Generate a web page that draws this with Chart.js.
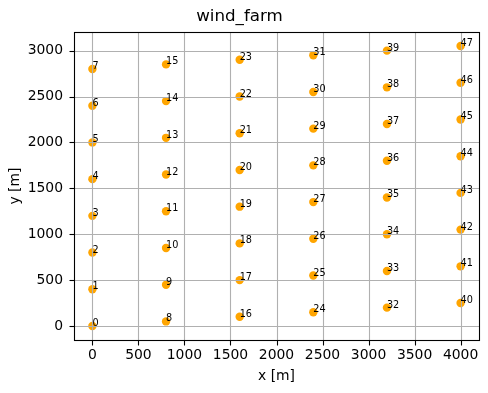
<!DOCTYPE html>
<html>
<head>
<meta charset="utf-8">
<script src="https://cdn.jsdelivr.net/npm/chart.js@4/dist/chart.umd.min.js"></script>
<style>
  html, body { margin: 0; padding: 0; background: #fff; }
  #wrap { width: 488px; height: 393px; }
</style>
</head>
<body>
<div id="wrap"><canvas id="c" width="488" height="393"></canvas></div>
<script>
// Turbine positions (m), ids 0..47
const turbineIds = [
  0, 1, 2, 3, 4, 5, 6, 7,
  8, 9, 10, 11, 12, 13, 14, 15,
  16, 17, 18, 19, 20, 21, 22, 23,
  24, 25, 26, 27, 28, 29, 30, 31,
  32, 33, 34, 35, 36, 37, 38, 39,
  40, 41, 42, 43, 44, 45, 46, 47
];
const turbineX = [
  0, 0, 0, 0, 0, 0, 0, 0,
  800, 800, 800, 800, 800, 800, 800, 800,
  1600, 1600, 1600, 1600, 1600, 1600, 1600, 1600,
  2400, 2400, 2400, 2400, 2400, 2400, 2400, 2400,
  3200, 3200, 3200, 3200, 3200, 3200, 3200, 3200,
  4000, 4000, 4000, 4000, 4000, 4000, 4000, 4000
];
const turbineY = [
  0, 400, 800, 1200, 1600, 2000, 2400, 2800,
  50, 450, 850, 1250, 1650, 2050, 2450, 2850,
  100, 500, 900, 1300, 1700, 2100, 2500, 2900,
  150, 550, 950, 1350, 1750, 2150, 2550, 2950,
  200, 600, 1000, 1400, 1800, 2200, 2600, 3000,
  250, 650, 1050, 1450, 1850, 2250, 2650, 3050
];
const xTicks = [0, 500, 1000, 1500, 2000, 2500, 3000, 3500, 4000];
const yTicks = [0, 500, 1000, 1500, 2000, 2500, 3000];
const chartTitle = 'wind_farm';
const xTitle = 'x [m]';
const yTitle = 'y [m]';

const FONT = "'DejaVu Sans', sans-serif";

const points = turbineX.map((x, i) => ({ x: x, y: turbineY[i] }));

const overlay = {
  id: 'overlay',
  afterDatasetsDraw(chart) {
    const ctx = chart.ctx;
    const a = chart.chartArea;
    const xs = chart.scales.x, ys = chart.scales.y;
    ctx.save();
    // grid (above points, as in matplotlib default)
    ctx.strokeStyle = '#b0b0b0';
    ctx.lineWidth = 1.1;
    xTicks.forEach(v => {
      const p = Math.round(xs.getPixelForValue(v)) + 0.5;
      ctx.beginPath(); ctx.moveTo(p, a.top); ctx.lineTo(p, a.bottom); ctx.stroke();
    });
    yTicks.forEach(v => {
      const p = Math.round(ys.getPixelForValue(v)) + 0.5;
      ctx.beginPath(); ctx.moveTo(a.left, p); ctx.lineTo(a.right, p); ctx.stroke();
    });
    // point labels
    ctx.fillStyle = '#000';
    ctx.font = '9.7px ' + FONT;
    ctx.textAlign = 'left';
    ctx.textBaseline = 'alphabetic';
    turbineIds.forEach((id, i) => {
      ctx.fillText(String(id), xs.getPixelForValue(turbineX[i]), ys.getPixelForValue(turbineY[i]));
    });
    // frame
    ctx.strokeStyle = '#000';
    ctx.lineWidth = 1.1;
    ctx.strokeRect(Math.round(a.left) + 0.5, Math.round(a.top) + 0.5,
                   Math.round(a.right) - Math.round(a.left), Math.round(a.bottom) - Math.round(a.top));
    // tick marks
    xTicks.forEach(v => {
      const p = Math.round(xs.getPixelForValue(v)) + 0.5;
      ctx.beginPath(); ctx.moveTo(p, Math.round(a.bottom) + 0.5); ctx.lineTo(p, Math.round(a.bottom) + 5.5); ctx.stroke();
    });
    yTicks.forEach(v => {
      const p = Math.round(ys.getPixelForValue(v)) + 0.5;
      ctx.beginPath(); ctx.moveTo(Math.round(a.left) + 0.5, p); ctx.lineTo(Math.round(a.left) - 4.5, p); ctx.stroke();
    });
    ctx.restore();
  }
};

new Chart(document.getElementById('c'), {
  type: 'scatter',
  data: {
    datasets: [{
      data: points,
      backgroundColor: '#ffa500',
      borderWidth: 0,
      pointRadius: 4.2,
      pointHoverRadius: 4.2
    }]
  },
  options: {
    responsive: false,
    animation: false,
    events: [],
    layout: { padding: { left: 0, right: 9, top: 0, bottom: 0 } },
    plugins: {
      legend: { display: false },
      tooltip: { enabled: false },
      title: {
        display: true,
        text: chartTitle,
        color: '#000',
        font: { family: FONT, size: 16.7, weight: 'normal', lineHeight: 1.2 },
        padding: { top: 7, bottom: 5 }
      }
    },
    scales: {
      x: {
        type: 'linear',
        min: -200,
        max: 4200,
        afterBuildTicks: s => { s.ticks = xTicks.map(v => ({ value: v })); },
        afterFit: s => { s.height = 53; },
        grid: { display: false, drawTicks: false },
        border: { display: false },
        ticks: {
          color: '#000',
          padding: 7,
          maxRotation: 0,
          autoSkip: false,
          font: { family: FONT, size: 13.9 },
          callback: v => String(v)
        },
        title: {
          display: true,
          text: xTitle,
          color: '#000',
          font: { family: FONT, size: 13.9, lineHeight: 1.2 },
          padding: { top: 0, bottom: 8 }
        }
      },
      y: {
        type: 'linear',
        min: -152.5,
        max: 3202.5,
        afterBuildTicks: s => { s.ticks = yTicks.map(v => ({ value: v })); },
        afterFit: s => { s.width = 74; },
        grid: { display: false, drawTicks: false },
        border: { display: false },
        ticks: {
          color: '#000',
          padding: 11,
          autoSkip: false,
          font: { family: FONT, size: 13.9 },
          callback: v => String(v)
        },
        title: {
          display: true,
          text: yTitle,
          color: '#000',
          font: { family: FONT, size: 13.9, lineHeight: 1.2 },
          padding: { top: 7, bottom: 0 }
        }
      }
    }
  },
  plugins: [overlay]
});
</script>
</body>
</html>
